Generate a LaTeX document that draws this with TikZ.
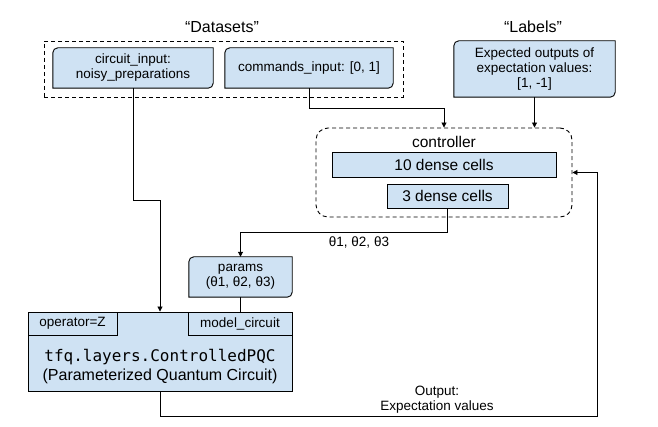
\documentclass[tikz,border=0pt]{standalone}
\usepackage{fontspec}
\setmainfont{Liberation Sans}
\setmonofont{DejaVu Sans Mono}
\usetikzlibrary{arrows.meta,backgrounds}
\definecolor{boxblue}{HTML}{CFE2F3}
\newcommand\smalltxt{\fontsize{13.5}{15}\selectfont}
\newcommand\midtxt{\fontsize{15.5}{18}\selectfont}
\newcommand\headtxt{\fontsize{16}{19}\selectfont}
\begin{document}
\begin{tikzpicture}[x=1pt,y=-1pt,
  box/.style={draw=black, fill=boxblue, line width=0.9pt, inner sep=0pt, align=center, font=\smalltxt},
  cornerbox/.style={inner sep=0pt, align=center, font=\smalltxt},
  dashframe/.style={draw=black, dash pattern=on 4pt off 3pt, line width=0.9pt, inner sep=0pt},
  arr/.style={-{Triangle[length=5pt,width=5pt]}, line width=0.9pt},
  conn/.style={line width=0.9pt}]
\useasboundingbox (0,0) rectangle (658,427);
% titles
\node [font=\headtxt] (dstitle) at (222,27) {“Datasets”};
\node [font=\headtxt] (labtitle) at (533,27) {“Labels”};
% datasets
\node [dashframe, minimum width=359pt, minimum height=56pt] (datasets) at (223.5,69) {};
\node [cornerbox, minimum width=160pt, minimum height=40pt] (circ) at (133,68) {circuit\_input:\\noisy\_preparations};
\node [cornerbox, minimum width=168pt, minimum height=40pt] (cmd) at (309,68) {commands\_input: [0, 1]};
% labels
\node [cornerbox, minimum width=161pt, minimum height=56pt] (lab) at (534.5,69) {Expected outputs of\\expectation values:\\{}[1, -1]};
% controller
\node [dashframe, rounded corners=12pt, minimum width=256pt, minimum height=89pt] (ctrl) at (444,172.5) {};
\node [font=\midtxt] (ctrltitle) at (444,142) {controller};
\node [box, font=\midtxt, minimum width=224pt, minimum height=25pt] (dense10) at (444,164.5) {10 dense cells};
\node [box, font=\midtxt, minimum width=121pt, minimum height=24pt] (dense3) at (447.5,196) {3 dense cells};
% params
\node [cornerbox, minimum width=103pt, minimum height=40pt] (par) at (240.5,277) {params\\(θ1, θ2, θ3)};
% PQC layer
\node [box, minimum width=264pt, minimum height=79pt] (pqc) at (160,351.5) {};
\node [box, minimum width=89pt, minimum height=23pt] (opz) at (72.5,323.5) {operator=Z};
\node [box, minimum width=104pt, minimum height=23pt] (model) at (240,323.5) {model\_circuit};
\node [font=\headtxt, align=center] (pqctext) at (160,366.5) {{\ttfamily tfq.layers.ControlledPQC}\\(Parameterized Quantum Circuit)};
% diagonal rounded boxes
\begin{scope}[on background layer]
\foreach \n in {circ,cmd,lab,par}
  \filldraw [draw=black, fill=boxblue, line width=0.9pt] (\n.south west) -- ([yshift=-5pt]\n.north west)
    arc [start angle=180, end angle=90, radius=5pt] -- (\n.north east) -- ([yshift=5pt]\n.south east)
    arc [start angle=0, end angle=-90, radius=5pt] -- cycle;
\end{scope}
% connectors
\coordinate (outcorner) at (597,416);
\draw [arr] (circ.south) -- ++(0,112) -| (pqc.north);
\draw [arr] (cmd.south) -- ++(0,20) -| (ctrl.north);
\draw [arr] (lab.south) -- (lab.south |- ctrl.north);
\draw [arr] (dense3.south) -- ++(0,24) -| (par.north);
\node [font=\smalltxt] (thetas) at (359,242.5) {θ1, θ2, θ3};
\draw [conn] (par.south) -- (par.south |- model.north);
\draw [arr] (pqc.south) |- (outcorner) |- (ctrl.east);
\node [font=\smalltxt, align=center] (outlbl) at (437,399.5) {Output:\\Expectation values};
\end{tikzpicture}
\end{document}
